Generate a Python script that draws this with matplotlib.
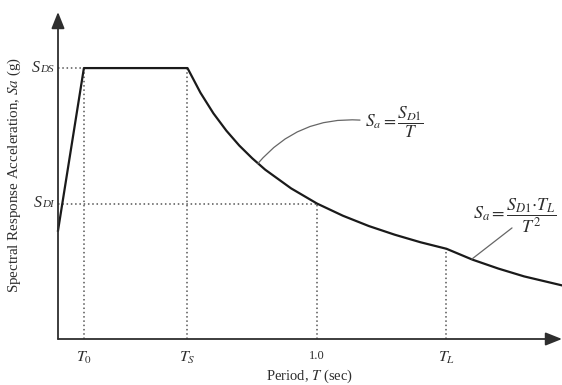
import matplotlib
matplotlib.use('Agg')
import matplotlib.pyplot as plt
from matplotlib.transforms import offset_copy

plt.rcParams['font.family'] = ['Liberation Serif', 'DejaVu Serif']
plt.rcParams['mathtext.fontset'] = 'stix'

# ---- data (normalised: SDS = 1.0) ----
period = [0.0, 0.10, 0.50, 0.55, 0.60, 0.65, 0.70, 0.75, 0.80, 0.90,
          1.00, 1.10, 1.20, 1.30, 1.40, 1.50, 1.60, 1.70, 1.80, 1.95]
sa = [0.40, 1.00, 1.00, 0.909, 0.833, 0.769, 0.714, 0.667, 0.625, 0.556,
      0.500, 0.455, 0.417, 0.385, 0.357, 0.333, 0.293, 0.260, 0.231, 0.197]
T0, TS, T1, TL = 0.10, 0.50, 1.00, 1.50
SDS, SD1 = 1.00, 0.50
x_tick_pos = [T0, TS, T1, TL]
x_tick_labels = [r'$T_0$', r'$T_S$', '1.0', r'$T_L$']

XMAX, YMAX = 1.946, 1.207
INK = '#2e2e2e'
DOT = '#555555'

fig = plt.figure(figsize=(5.62, 3.85), dpi=100)
ax = fig.add_axes([58/562, 46/385, 504/562, 327/385])
ax.set_xlim(0, XMAX)
ax.set_ylim(0, YMAX)
for s in ax.spines.values():
    s.set_visible(False)

# axes with arrows
arrow_kw = dict(arrowstyle='-|>,head_length=1.0,head_width=0.4', color=INK,
                lw=1.3, shrinkA=0, shrinkB=0)
ax.annotate('', xy=(XMAX, 0), xytext=(0, 0), arrowprops=arrow_kw,
            annotation_clip=False)
ax.annotate('', xy=(0, YMAX), xytext=(0, 0), arrowprops=arrow_kw,
            annotation_clip=False)

# dotted guides
dot_kw = dict(ls=(0, (1, 1.8)), color=DOT, lw=1.1)
ax.plot([0, T0], [SDS, SDS], **dot_kw)
ax.plot([T0, T0], [0, SDS], **dot_kw)
ax.plot([TS, TS], [0, SDS], **dot_kw)
ax.plot([0, T1], [SD1, SD1], **dot_kw)
ax.plot([T1, T1], [0, SD1], **dot_kw)
ax.plot([TL, TL], [0, sa[period.index(TL)]], **dot_kw)

# spectrum curve
ax.plot(period, sa, color='#1a1a1a', lw=1.6, clip_on=False,
        solid_joinstyle='round')

# ticks
ax.set_xticks(x_tick_pos)
ax.set_xticklabels(x_tick_labels)
ax.tick_params(axis='x', length=0, pad=8, colors=INK)
for lab in ax.get_xticklabels():
    lab.set_fontsize(9 if lab.get_text() == '1.0' else 11.5)
ax.set_yticks([])

# y tick labels, S with small-cap subscript
def ylab(y, sub):
    tr = offset_copy(ax.transData, fig=fig, x=-3, y=0, units='points')
    t = ax.text(0, y, sub, transform=tr, ha='right', va='baseline',
                fontsize=8, style='italic', color=INK)
    fig.canvas.draw()
    w = t.get_window_extent().width * 72 / fig.dpi
    tr2 = offset_copy(ax.transData, fig=fig, x=-3 - w, y=0, units='points')
    ax.text(0, y, 'S', transform=tr2, ha='right', va='baseline',
            fontsize=11.5, style='italic', color=INK)

ylab(SDS - 0.014, 'DS')
ylab(SD1 - 0.014, 'DI')

ax.set_xlabel(r'Period, $T$ (sec)', fontsize=10.5, color=INK, labelpad=1)
ax.set_ylabel(r'Spectral Response Acceleration, $Sa$ (g)', fontsize=10.8,
              color=INK, labelpad=25)

# equation annotations
ax.text(1.185, 0.80, r'$S_a = \dfrac{S_{D1}}{T}$', fontsize=12.5,
        ha='left', va='center', color=INK)
ax.annotate('', xy=(0.772, 0.648), xytext=(1.166, 0.808),
            arrowprops=dict(arrowstyle='-', connectionstyle='arc3,rad=0.25',
                            color='#666666', lw=0.9, shrinkA=0, shrinkB=0))
ax.text(1.602, 0.455, r'$S_a = \dfrac{S_{D1}{\cdot}T_L}{T^2}$', fontsize=13,
        ha='left', va='center', color=INK)
ax.annotate('', xy=(1.598, 0.295), xytext=(1.753, 0.41),
            arrowprops=dict(arrowstyle='-', color='#666666', lw=0.9,
                            shrinkA=0, shrinkB=0))

fig.savefig('out.png', dpi=100, facecolor='white')
